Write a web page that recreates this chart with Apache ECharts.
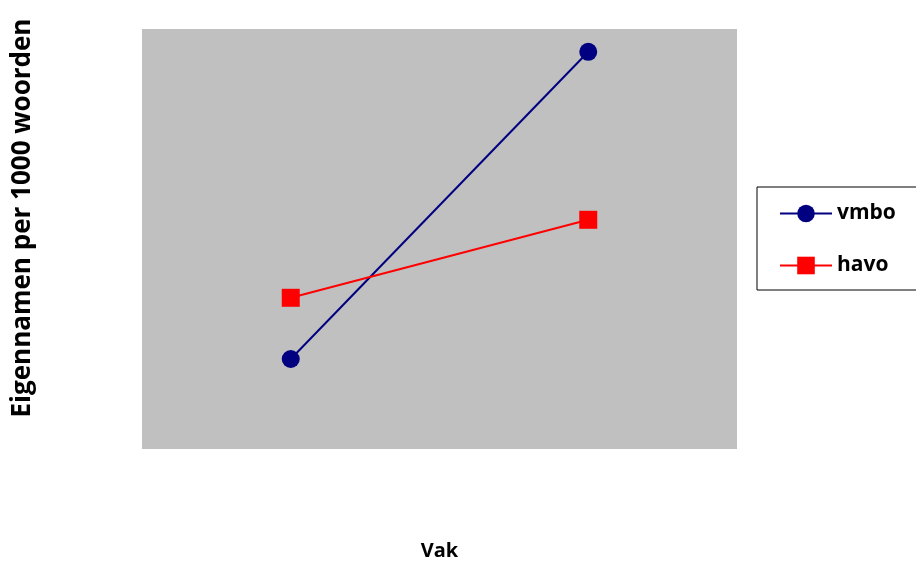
<!DOCTYPE html>
<html>
<head>
<meta charset="utf-8">
<script src="https://cdn.jsdelivr.net/npm/echarts@6/dist/echarts.min.js"></script>
<style>
  html, body { margin: 0; padding: 0; background: #ffffff; }
  #chart { width: 916px; height: 566px; }
</style>
</head>
<body>
<div id="chart"></div>
<script>
// Two subject categories on the x axis (labels are not shown)
const categories = ['A', 'B'];
// Proper nouns per 1000 words, per school level
const vmboValues = [1.5, 6.62];
const havoValues = [2.52, 3.82];
const seriesNames = ['vmbo', 'havo'];

const FONT = '"Open Sans", sans-serif';

const chart = echarts.init(document.getElementById('chart'), null, { renderer: 'canvas' });

chart.setOption({
  backgroundColor: '#ffffff',
  animation: false,
  grid: {
    left: 142,
    top: 29,
    width: 595,
    height: 421,
    show: true,
    backgroundColor: '#c0c0c0',
    borderWidth: 0
  },
  legend: {
    left: 757,
    top: 187,
    orient: 'vertical',
    data: seriesNames,
    itemWidth: 52,
    itemHeight: 22,
    itemGap: 31,
    padding: [16, 40, 14, 22],
    borderColor: '#000000',
    borderWidth: 1,
    backgroundColor: '#ffffff',
    textStyle: { fontFamily: FONT, fontWeight: 'bold', fontSize: 21, color: '#000000' }
  },
  xAxis: {
    type: 'category',
    data: categories,
    boundaryGap: true,
    name: 'Vak',
    nameLocation: 'middle',
    nameGap: 92,
    nameTextStyle: { fontFamily: FONT, fontWeight: 'bold', fontSize: 20, color: '#000000' },
    axisLine: { show: false },
    axisTick: { show: false },
    axisLabel: { show: false },
    splitLine: { show: false }
  },
  yAxis: {
    type: 'value',
    min: 0,
    max: 7,
    name: 'Eigennamen per 1000 woorden',
    nameLocation: 'middle',
    nameGap: 106,
    nameTextStyle: { fontFamily: FONT, fontWeight: 'bold', fontSize: 26, color: '#000000', padding: [0, 0, 0, 42] },
    axisLine: { show: false },
    axisTick: { show: false },
    axisLabel: { show: false },
    splitLine: { show: false }
  },
  series: [
    {
      name: seriesNames[0],
      type: 'line',
      data: vmboValues,
      symbol: 'circle',
      symbolSize: 18,
      itemStyle: { color: '#000080' },
      lineStyle: { color: '#000080', width: 2 }
    },
    {
      name: seriesNames[1],
      type: 'line',
      data: havoValues,
      symbol: 'rect',
      symbolSize: 18,
      itemStyle: { color: '#ff0000' },
      lineStyle: { color: '#ff0000', width: 2 }
    }
  ]
});
</script>
</body>
</html>
